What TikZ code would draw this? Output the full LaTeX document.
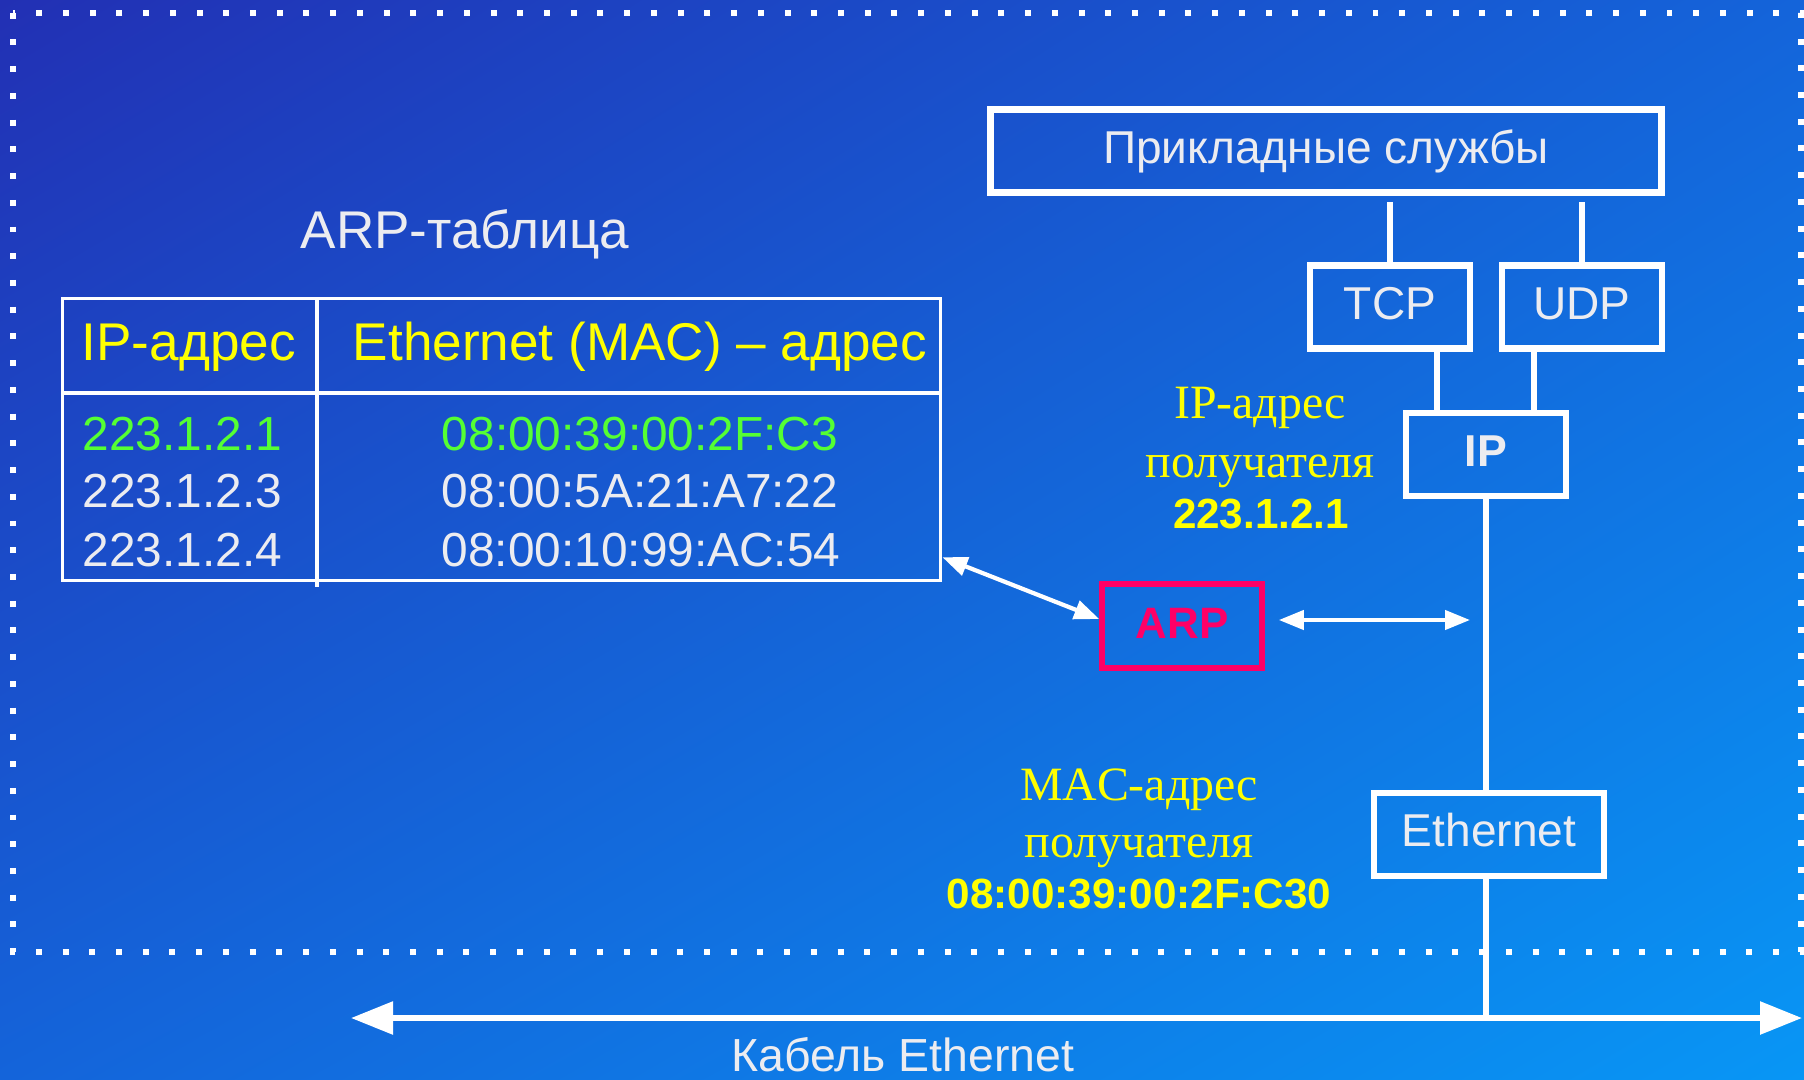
\documentclass[tikz,border=0pt]{standalone}
\usepackage{fontspec}
\setmainfont{Liberation Sans}
\newfontfamily\labelserif{Liberation Serif}
\usetikzlibrary{arrows.meta,calc,positioning,shadings}
\definecolor{bgdark}{RGB}{34,48,180}
\definecolor{bgmid}{RGB}{20,100,218}
\definecolor{bglight}{RGB}{8,150,245}
\definecolor{txtwhite}{RGB}{236,236,240}
\definecolor{addryellow}{RGB}{255,255,0}
\definecolor{hitgreen}{RGB}{85,255,51}
\definecolor{arpred}{RGB}{255,0,102}
\tikzset{
  layer/.style={draw=white, line width=1.85pt, minimum width=1.595cm, minimum height=0.83cm,
    inner sep=0pt, text=txtwhite, font=\fontsize{13.1}{15}\selectfont,
    text height=0.33cm, text depth=0.09cm},
  wire/.style={draw=white, line width=1.85pt},
  tableline/.style={draw=white, line width=0.95pt},
  twoway/.style={white, line width=1.2pt,
    {Triangle[length=0.25cm,width=0.19cm]}-{Triangle[length=0.25cm,width=0.19cm]}},
  tabhead/.style={text=addryellow, font=\fontsize{15.1}{18}\selectfont, inner sep=0pt},
  tabrow/.style={text=txtwhite, font=\fontsize{13.6}{16}\selectfont, inner sep=0pt},
  serifnote/.style={text=addryellow, font=\labelserif\fontsize{13.6}{16}\selectfont, inner sep=0pt},
  boldnote/.style={text=addryellow, font=\bfseries\fontsize{12}{14}\selectfont, inner sep=0pt}
}
\begin{document}
\begin{tikzpicture}[x=0.01cm,y=-0.01cm]
  \useasboundingbox (0,0) rectangle (1804,1079);
  \shade[upper left=bgdark, upper right=bgmid, lower left=bgmid, lower right=bglight]
    (0,0) rectangle (1804,1079);
  % host frame
  \draw[white, line width=1.7pt, dash pattern=on 1.7pt off 5.9pt] (13,12.7) rectangle (1801,952);

  % ARP table
  \node[text=txtwhite, font=\fontsize{15.1}{18}\selectfont, anchor=base, inner sep=0pt] (title) at (465,248) {ARP-таблица};
  \node[tableline, minimum width=8.78cm, minimum height=2.82cm, inner sep=0pt] (tbl) at (501.5,439.5) {};
  \draw[tableline] (62,393) -- (941,393);
  \draw[tableline] (317,297) -- (317,587);
  \node[tabhead, anchor=base west] (hip) at (81,360) {IP-адрес};
  \node[tabhead, anchor=base] (hmac) at (640,360) {Ethernet (MAC) – адрес};
  \node[tabrow, text=hitgreen, anchor=base west] (ipA) at (82,450) {223.1.2.1};
  \node[tabrow, anchor=base west] (ipB) at (82,507.5) {223.1.2.3};
  \node[tabrow, anchor=base west] (ipC) at (82,566) {223.1.2.4};
  \node[tabrow, text=hitgreen, anchor=base] (macA) at (640,450) {08:00:39:00:2F:C3};
  \node[tabrow, anchor=base] (macB) at (640,507.5) {08:00:5A:21:A7:22};
  \node[tabrow, anchor=base] (macC) at (641,566) {08:00:10:99:AC:54};

  % protocol stack
  \node[layer, minimum width=6.71cm] (app) at (1326,151) {Прикладные службы};
  \node[layer] (tcp) at (1390,307) {TCP};
  \node[layer] (udp) at (1582,307) {UDP};
  \node[layer, font=\bfseries\fontsize{12.7}{15}\selectfont] (ip) at (1486,454.5) {IP};
  \node[layer, draw=arpred, text=arpred, line width=1.7pt, font=\bfseries\fontsize{12.5}{15}\selectfont] (arp) at (1182,626) {ARP};
  \node[layer, minimum width=2.3cm] (eth) at (1489,834.5) {Ethernet};
  \coordinate (cableL) at (351,1018);
  \coordinate (cableR) at (1802,1018);

  \draw[wire] ($(app.south -| tcp.north)+(0,6)$) -- (tcp.north);
  \draw[wire] ($(app.south -| udp.north)+(0,6)$) -- (udp.north);
  \draw[wire] ([xshift=-0.49cm]ip.north) -- ([xshift=-0.49cm]ip.north |- tcp.south);
  \draw[wire] ([xshift=0.48cm]ip.north) -- ([xshift=0.48cm]ip.north |- udp.south);
  \draw[wire] (ip.south) -- (ip.south |- eth.north);
  \draw[wire] (ip.south |- eth.south) -- (ip.south |- cableR);

  \draw[twoway] ($(tbl.south east)+(0,-25)$) -- ($(arp.west)+(0,-7)$);
  \draw[twoway] ($(arp.east)+(14,-6)$) -- ($(arp.east -| ip.south)+(-16,-6)$);

  % recipient labels
  \node[serifnote, anchor=base] (iplabA) at (1260,418) {IP-адрес};
  \node[serifnote, anchor=base] (iplabB) at (1260,477) {получателя};
  \node[boldnote, anchor=base] (iplabC) at (1261,528) {223.1.2.1};
  \node[serifnote, anchor=base] (maclabA) at (1139,800) {MAC-адрес};
  \node[serifnote, anchor=base] (maclabB) at (1139,857) {получателя};
  \node[boldnote, anchor=base] (maclabC) at (1139,908) {08:00:39:00:2F:C30};

  % cable
  \draw[white, line width=1.62pt,
    {Triangle[length=0.42cm,width=0.32cm]}-{Triangle[length=0.42cm,width=0.32cm]}] (cableL) -- (cableR);
  \node[text=txtwhite, font=\fontsize{13.2}{15}\selectfont, anchor=base, inner sep=0pt] (cablelab) at (903,1071) {Кабель Ethernet};
\end{tikzpicture}
\end{document}
